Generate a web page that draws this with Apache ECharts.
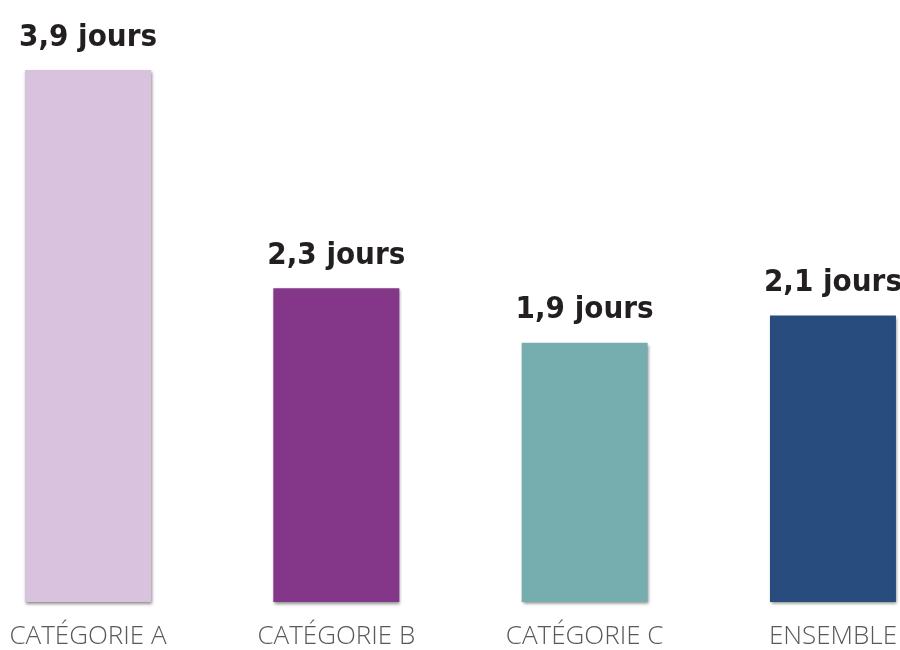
<!DOCTYPE html>
<html>
<head>
<meta charset="utf-8">
<script src="https://cdn.jsdelivr.net/npm/echarts@6/dist/echarts.min.js"></script>
<style>
html,body{margin:0;padding:0;background:#fff;}
#chart{width:900px;height:650px;}
</style>
</head>
<body>
<div id="chart"></div>
<script>
var categories = ['CATÉGORIE A', 'CATÉGORIE B', 'CATÉGORIE C', 'ENSEMBLE'];
var values = [3.9, 2.3, 1.9, 2.1];
var colors = ['#d9c2dd', '#843689', '#76aeaf', '#284c7d'];

var chart = echarts.init(document.getElementById('chart'), null, {renderer: 'canvas'});
chart.setOption({
  animation: false,
  backgroundColor: '#ffffff',
  grid: {left: 88, right: 63.5, top: 56.4, bottom: 48, containLabel: false},
  xAxis: {
    type: 'category',
    data: categories,
    boundaryGap: false,
    axisLine: {show: false},
    axisTick: {show: false},
    splitLine: {show: false},
    axisLabel: {
      interval: 0,
      margin: 22,
      color: '#58595b',
      fontFamily: '"Open Sans", sans-serif',
      fontWeight: 300,
      fontSize: 26
    }
  },
  yAxis: {
    type: 'value',
    min: 0,
    max: 4,
    show: false,
    splitLine: {show: false}
  },
  series: [{
    type: 'bar',
    barWidth: 126,
    data: values.map(function (v, i) {
      return {value: v, itemStyle: {color: colors[i]}};
    }),
    itemStyle: {
      shadowColor: 'rgba(0,0,0,0.45)',
      shadowBlur: 3,
      shadowOffsetX: 1,
      shadowOffsetY: 2
    },
    label: {
      show: true,
      position: 'top',
      distance: 17,
      color: '#231f20',
      fontFamily: '"Liberation Sans Narrow", "DejaVu Sans Condensed", sans-serif',
      fontWeight: 'bold',
      fontSize: 31,
      formatter: function (p) {
        return p.value.toFixed(1).replace('.', ',') + ' jours';
      }
    }
  }]
});
</script>
</body>
</html>
